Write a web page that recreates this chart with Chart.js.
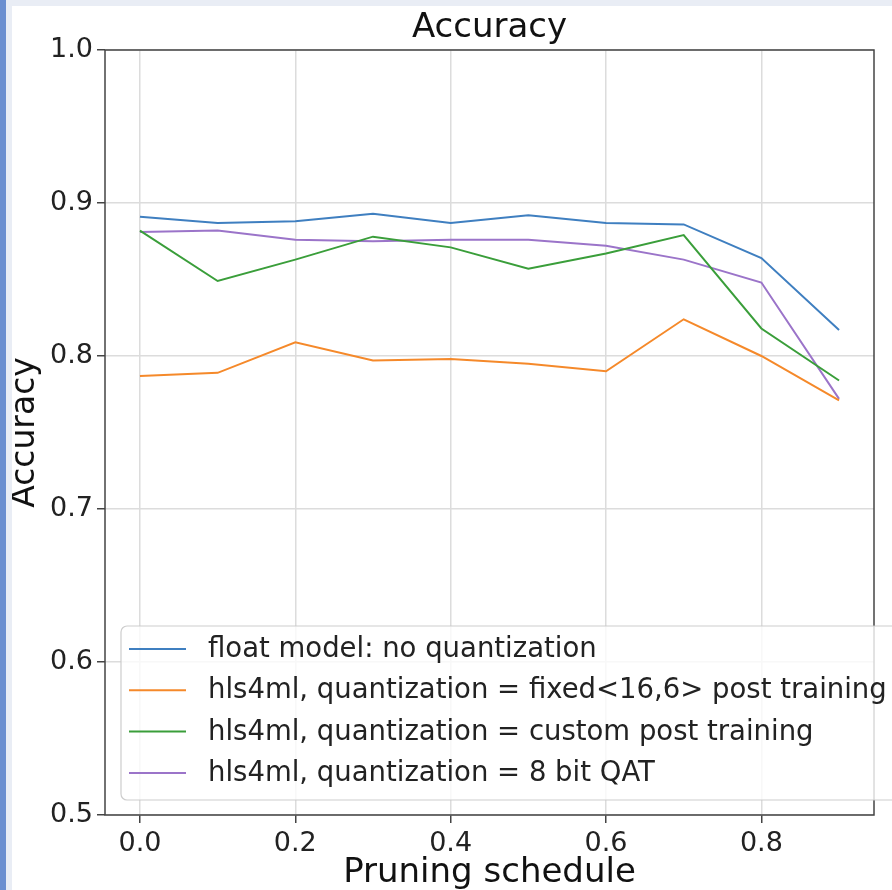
<!DOCTYPE html>
<html>
<head>
<meta charset="utf-8">
<script src="https://cdn.jsdelivr.net/npm/chart.js@4.4.1/dist/chart.umd.min.js"></script>
<style>
  html, body { margin: 0; padding: 0; }
  body { width: 892px; height: 890px; background: #e9edf5; position: relative; overflow: hidden; }
  #strip { position: absolute; left: 0; top: 0; width: 6px; height: 890px; background: #6b8fd0; }
  #wrap { position: absolute; left: 12px; top: 6px; width: 880px; height: 884px; background: #fff; }
</style>
</head>
<body>
<div id="strip"></div>
<div id="wrap"><canvas id="GraficoAccuracy" width="880" height="884"></canvas></div>
<script>
// datos
const pruning = [0.0, 0.1, 0.2, 0.3, 0.4, 0.5, 0.6, 0.7, 0.8, 0.9];
const floatModel = [0.891, 0.887, 0.888, 0.893, 0.887, 0.892, 0.887, 0.886, 0.864, 0.817];
const fixedPost = [0.787, 0.789, 0.809, 0.797, 0.798, 0.795, 0.790, 0.824, 0.800, 0.771];
const customPost = [0.882, 0.849, 0.863, 0.878, 0.871, 0.857, 0.867, 0.879, 0.818, 0.784];
const qat8bit = [0.881, 0.882, 0.876, 0.875, 0.876, 0.876, 0.872, 0.863, 0.848, 0.772];
const xTicks = [0.0, 0.2, 0.4, 0.6, 0.8];
const yTicks = [0.5, 0.6, 0.7, 0.8, 0.9, 1.0];
const seriesNames = [
  'float model: no quantization',
  'hls4ml, quantization = fixed<16,6> post training',
  'hls4ml, quantization = custom post training',
  'hls4ml, quantization = 8 bit QAT'
];
const seriesColors = ['#3f7fc0', '#f5892a', '#3a9e3a', '#9b74c9'];

const fuente = 'DejaVu Sans';

function puntos(valores) {
  return pruning.map((x, i) => ({ x: x, y: valores[i] }));
}

// marco completo del area (como matplotlib)
const marcoPlugin = {
  id: 'marco',
  afterDatasetsDraw(chart) {
    const a = chart.chartArea;
    const ctx = chart.ctx;
    ctx.save();
    ctx.strokeStyle = '#444';
    ctx.lineWidth = 1.5;
    ctx.strokeRect(a.left, a.top, a.right - a.left, a.bottom - a.top);
    ctx.restore();
  }
};

// leyenda dentro del grafico, abajo a la izquierda
const leyendaPlugin = {
  id: 'leyenda',
  afterDatasetsDraw(chart) {
    const ctx = chart.ctx;
    const x = 109, y = 620, w = 800, h = 174;
    ctx.save();
    ctx.beginPath();
    ctx.roundRect(x, y, w, h, 6);
    ctx.fillStyle = 'rgba(255,255,255,0.8)';
    ctx.fill();
    ctx.strokeStyle = 'rgba(200,200,200,0.9)';
    ctx.lineWidth = 1.2;
    ctx.stroke();
    ctx.font = '27.5px ' + fuente;
    ctx.textBaseline = 'middle';
    chart.data.datasets.forEach((ds, i) => {
      const cy = 643 + i * 41.3;
      ctx.strokeStyle = ds.borderColor;
      ctx.lineWidth = 2;
      ctx.beginPath();
      ctx.moveTo(117, cy);
      ctx.lineTo(174, cy);
      ctx.stroke();
      ctx.fillStyle = '#222';
      ctx.fillText(ds.label, 196, cy + 1);
    });
    ctx.restore();
  }
};

const GraficoAccuracy = new Chart(document.getElementById('GraficoAccuracy'), {
  type: 'line',
  data: {
    datasets: [floatModel, fixedPost, customPost, qat8bit].map((v, i) => ({
      label: seriesNames[i],
      data: puntos(v),
      borderColor: seriesColors[i],
      backgroundColor: seriesColors[i],
      borderWidth: 2,
      pointRadius: 0,
      tension: 0,
      fill: false
    }))
  },
  options: {
    responsive: false,
    animation: false,
    layout: { padding: { left: 0, right: 18, top: 0, bottom: 0 } },
    plugins: {
      legend: { display: false },
      tooltip: { enabled: false },
      title: {
        display: true,
        text: 'Accuracy',
        fullSize: false,
        color: '#111',
        font: { family: fuente, size: 34, weight: 'normal', lineHeight: 1.1 },
        padding: { top: 3, bottom: 3.6 }
      }
    },
    scales: {
      x: {
        type: 'linear',
        min: -0.045,
        max: 0.945,
        afterBuildTicks: s => { s.ticks = xTicks.map(v => ({ value: v })); },
        afterFit: s => { s.height = 75; },
        ticks: {
          color: '#222',
          padding: 5,
          font: { family: fuente, size: 27 },
          callback: v => v.toFixed(1)
        },
        grid: { color: '#dcdcdc', lineWidth: 1.5, tickColor: '#444', tickLength: 8, drawTicks: true },
        border: { display: false },
        title: {
          display: true,
          text: 'Pruning schedule',
          color: '#111',
          font: { family: fuente, size: 34, lineHeight: 1.0 },
          padding: { top: 0, bottom: 0 }
        }
      },
      y: {
        min: 0.5,
        max: 1.0,
        afterBuildTicks: s => { s.ticks = yTicks.map(v => ({ value: v })); },
        afterFit: s => { s.width = 93; },
        ticks: {
          color: '#222',
          padding: 4,
          font: { family: fuente, size: 27 },
          callback: v => v.toFixed(1)
        },
        grid: { color: '#dcdcdc', lineWidth: 1.5, tickColor: '#444', tickLength: 8, drawTicks: true },
        border: { display: false },
        title: {
          display: true,
          text: 'Accuracy',
          color: '#111',
          font: { family: fuente, size: 33, lineHeight: 0.8 },
          padding: { top: 0, bottom: 0 }
        }
      }
    }
  },
  plugins: [marcoPlugin, leyendaPlugin]
});
</script>
</body>
</html>
